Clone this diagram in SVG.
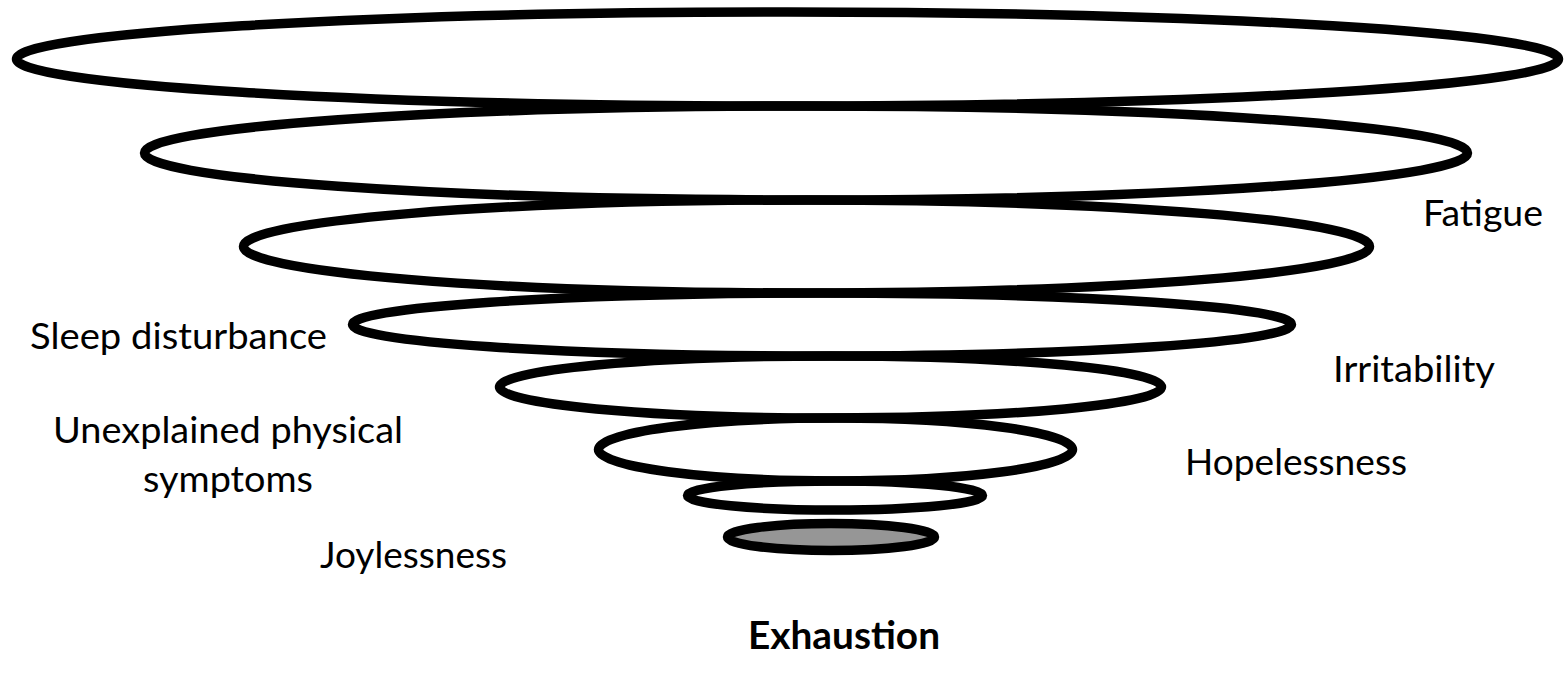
<svg xmlns="http://www.w3.org/2000/svg" width="1564" height="673" viewBox="0 0 1564 673">
<style>
.ring{fill:none;stroke:#000;stroke-width:9.5}
.core{fill:#969696;stroke:#000;stroke-width:9.5}
.lbl{font-family:Lato,"Open Sans","Liberation Sans",sans-serif;font-size:37px;fill:#000}
.title{font-family:Lato,"Open Sans","Liberation Sans",sans-serif;font-size:39px;font-weight:bold;fill:#000}
</style>
<rect width="1564" height="673" fill="#fff"/>
<g id="rings">
<g id="ring1"><ellipse class="ring" cx="787.5" cy="59" rx="771" ry="47"/></g>
<g id="ring2"><ellipse class="ring" cx="806" cy="153" rx="661.5" ry="47"/></g>
<g id="ring3"><ellipse class="ring" cx="806.5" cy="246.5" rx="563" ry="46.5"/></g>
<g id="ring4"><ellipse class="ring" cx="822" cy="324.5" rx="469.5" ry="31.5"/></g>
<g id="ring5"><ellipse class="ring" cx="830.5" cy="387" rx="331" ry="31"/></g>
<g id="ring6"><ellipse class="ring" cx="835.5" cy="449.5" rx="237" ry="31.5"/></g>
<g id="ring7"><ellipse class="ring" cx="835" cy="495.5" rx="147.5" ry="14.5"/></g>
<g id="ring8"><ellipse class="core" cx="831" cy="537" rx="103.5" ry="13.5"/></g>
</g>
<g id="connectors"></g>
<g id="labels">
<g id="label-fatigue"><text class="lbl" x="1423" y="226" textLength="120" lengthAdjust="spacingAndGlyphs">Fatigue</text></g>
<g id="label-sleep"><text class="lbl" x="30" y="349" textLength="297" lengthAdjust="spacingAndGlyphs">Sleep disturbance</text></g>
<g id="label-irritability"><text class="lbl" x="1333" y="382" textLength="162" lengthAdjust="spacingAndGlyphs">Irritability</text></g>
<g id="label-unexplained"><text class="lbl" x="53" y="443" textLength="350" lengthAdjust="spacingAndGlyphs">Unexplained physical</text><text class="lbl" x="143" y="492" textLength="170" lengthAdjust="spacingAndGlyphs">symptoms</text></g>
<g id="label-hopelessness"><text class="lbl" x="1185" y="475" textLength="222" lengthAdjust="spacingAndGlyphs">Hopelessness</text></g>
<g id="label-joylessness"><text class="lbl" x="320" y="568" textLength="187" lengthAdjust="spacingAndGlyphs">Joylessness</text></g>
<g id="label-exhaustion"><text class="title" x="748" y="649" textLength="192" lengthAdjust="spacingAndGlyphs">Exhaustion</text></g>
</g>
</svg>
